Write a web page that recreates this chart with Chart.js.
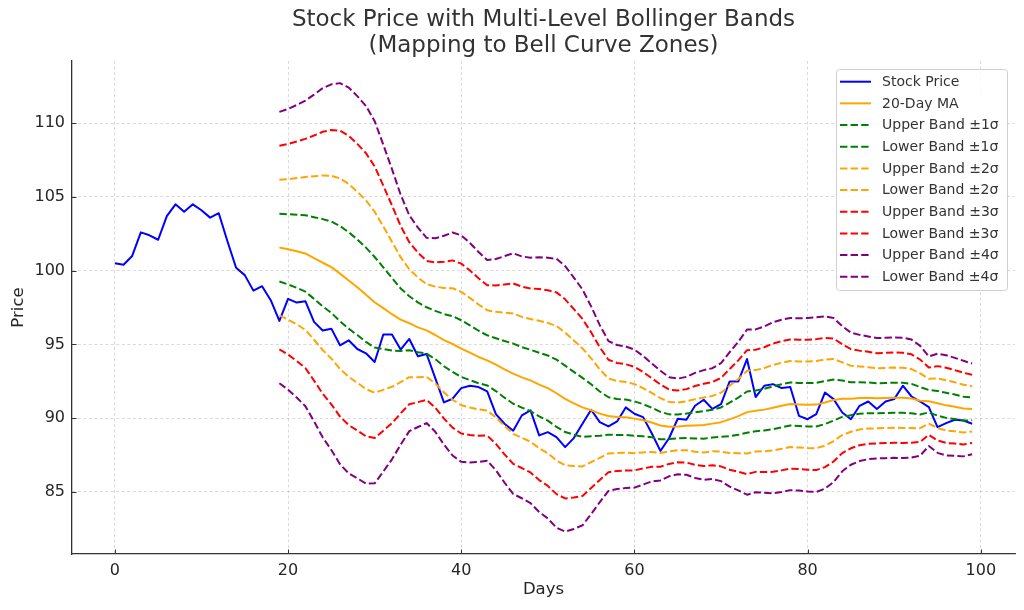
<!DOCTYPE html>
<html><head><meta charset="utf-8">
<script src="https://cdn.jsdelivr.net/npm/chart.js@4.4.0/dist/chart.umd.min.js"></script>
<style>html,body{margin:0;padding:0;background:#fff;} #wrap{width:1024px;height:610px;}</style>
</head><body><div id="wrap"><canvas id="c" width="1024" height="610"></canvas></div>
<script>
const days = [0,1,2,3,4,5,6,7,8,9,10,11,12,13,14,15,16,17,18,19,20,21,22,23,24,25,26,27,28,29,30,31,32,33,34,35,36,37,38,39,40,41,42,43,44,45,46,47,48,49,50,51,52,53,54,55,56,57,58,59,60,61,62,63,64,65,66,67,68,69,70,71,72,73,74,75,76,77,78,79,80,81,82,83,84,85,86,87,88,89,90,91,92,93,94,95,96,97,98,99];
const price = [100.5,100.4,101.0,102.6,102.4,102.1,103.7,104.5,104.0,104.5,104.1,103.6,103.9,102.0,100.2,99.7,98.65,98.95,98.0,96.6,
  98.09,97.84,97.93,96.53,95.94,96.07,94.94,95.28,94.69,94.40,93.81,95.67,95.67,94.65,95.37,94.2,94.35,92.72,91.07,91.32,
  92.04,92.2,92.11,91.82,90.28,89.62,89.15,90.19,90.53,88.83,89.05,88.72,88.04,88.65,89.62,90.57,89.73,89.44,89.78,90.73,
  90.3,90.07,88.98,87.78,88.64,89.96,89.89,90.84,91.25,90.63,90.95,92.49,92.49,94.01,91.43,92.2,92.31,92.04,92.11,90.16,
  89.93,90.27,91.74,91.29,90.39,89.93,90.84,91.13,90.63,91.13,91.29,92.2,91.47,91.13,90.75,89.39,89.66,89.89,89.84,89.62];
const bandDays = [19,20,21,22,23,24,25,26,27,28,29,30,31,32,33,34,35,36,37,38,39,40,41,42,43,44,45,46,47,48,49,50,51,52,53,54,55,56,57,58,59,60,61,62,63,64,65,66,67,68,69,70,71,72,73,74,75,76,77,78,79,80,81,82,83,84,85,86,87,88,89,90,91,92,93,94,95,96,97,98,99];
const ma20 = [101.57,101.45,101.32,101.17,100.86,100.54,100.24,99.80,99.34,98.88,98.37,97.86,97.46,97.05,96.68,96.44,96.16,95.95,95.64,95.29,95.03,
  94.72,94.44,94.15,93.92,93.63,93.31,93.02,92.77,92.56,92.28,92.04,91.69,91.31,91.01,90.73,90.54,90.31,90.15,90.08,90.06,
  89.97,89.86,89.71,89.50,89.42,89.44,89.48,89.51,89.54,89.63,89.73,89.92,90.14,90.41,90.50,90.58,90.71,90.84,90.96,90.93,
  90.91,90.92,91.06,91.23,91.32,91.32,91.37,91.38,91.35,91.37,91.39,91.38,91.33,91.18,91.15,91.01,90.87,90.77,90.65,90.63];
const sigma = [2.30,2.38,2.48,2.59,2.77,2.96,3.10,3.23,3.27,3.24,3.20,3.07,2.77,2.46,2.12,1.83,1.69,1.57,1.64,1.77,1.89,
  1.92,1.86,1.78,1.70,1.79,1.92,2.04,2.05,2.08,2.16,2.21,2.28,2.25,2.13,2.00,1.76,1.50,1.27,1.22,1.20,
  1.17,1.09,1.00,0.93,0.84,0.81,0.83,0.89,0.93,0.94,1.00,1.14,1.26,1.40,1.38,1.41,1.45,1.46,1.46,1.46,
  1.47,1.48,1.46,1.39,1.23,1.12,1.07,1.04,1.02,1.02,1.02,1.02,1.00,0.93,0.76,0.84,0.85,0.83,0.81,0.77];
const bandLevels = [1,2,3,4];
const bandColors = ['#008000','#ffa500','#ff0000','#800080'];
const xTicks = [0,20,40,60,80,100];
const yTicks = [85,90,95,100,105,110];

const FONT = "'DejaVu Sans', sans-serif";
const DASH = [7.4,3.2];

const datasets = [
  {label:'Stock Price', data: days.map((d,i)=>({x:d,y:price[i]})), borderColor:'#0000ff', borderWidth:2, order:20},
  {label:'20-Day MA', data: bandDays.map((d,i)=>({x:d,y:ma20[i]})), borderColor:'#ffa500', borderWidth:2, order:19}
];
bandLevels.forEach((k,j)=>{
  datasets.push({label:'Upper Band \u00B1'+k+'\u03C3', data: bandDays.map((d,i)=>({x:d,y:ma20[i]+k*sigma[i]})), borderColor:bandColors[j], borderWidth:2, borderDash:DASH, order:10-2*j});
  datasets.push({label:'Lower Band \u00B1'+k+'\u03C3', data: bandDays.map((d,i)=>({x:d,y:ma20[i]-k*sigma[i]})), borderColor:bandColors[j], borderWidth:2, borderDash:DASH, order:9-2*j});
});
datasets.forEach(ds=>{ds.pointRadius=0; ds.fill=false; ds.tension=0; ds.borderJoinStyle='round'; ds.borderCapStyle='butt';});

const innerTicks = {
  id:'innerTicks',
  afterDraw(chart){
    const {ctx, chartArea:a, scales:{x,y}} = chart;
    ctx.save(); ctx.strokeStyle='#333'; ctx.lineWidth=1;
    xTicks.forEach(v=>{const p=Math.round(x.getPixelForValue(v))+0.5; ctx.beginPath(); ctx.moveTo(p,a.bottom); ctx.lineTo(p,a.bottom-4.5); ctx.stroke();});
    yTicks.forEach(v=>{const p=Math.round(y.getPixelForValue(v))+0.5; ctx.beginPath(); ctx.moveTo(a.left,p); ctx.lineTo(a.left+4.5,p); ctx.stroke();});
    ctx.restore();
  }
};
const boxLegend = {
  id:'boxLegend',
  afterDraw(chart){
    const {ctx, chartArea:a} = chart;
    const w=171, h=221, right=a.right-8, top=a.top+8, left=right-w;
    ctx.save();
    ctx.beginPath();
    if (ctx.roundRect) ctx.roundRect(left+0.5,top+0.5,w,h,3); else ctx.rect(left+0.5,top+0.5,w,h);
    ctx.fillStyle='rgba(255,255,255,0.85)'; ctx.fill();
    ctx.strokeStyle='#d0d0d0'; ctx.lineWidth=1; ctx.stroke();
    ctx.font='14px '+FONT; ctx.textBaseline='middle'; ctx.textAlign='left';
    chart.data.datasets.forEach((ds,i)=>{
      const cy = top + 12.7 + 21.67*i;
      ctx.strokeStyle=ds.borderColor; ctx.lineWidth=2; ctx.setLineDash(ds.borderDash||[]);
      ctx.beginPath(); ctx.moveTo(left+4,cy); ctx.lineTo(left+35,cy); ctx.stroke();
      ctx.setLineDash([]);
      ctx.fillStyle='#333'; ctx.fillText(ds.label, left+46, cy+0.5);
    });
    ctx.restore();
  }
};

new Chart(document.getElementById('c'), {
  type:'line',
  data:{datasets},
  options:{
    responsive:false, animation:false, devicePixelRatio:1,
    layout:{padding:{left:0,right:9,top:0,bottom:0}},
    plugins:{
      legend:{display:false}, tooltip:{enabled:false},
      title:{display:true, fullSize:false, text:['Stock Price with Multi-Level Bollinger Bands','(Mapping to Bell Curve Zones)'],
        color:'#333', font:{family:FONT, size:23, weight:'normal', lineHeight:26/23}, padding:{top:7,bottom:2}}
    },
    scales:{
      x:{type:'linear', min:-4.95, max:103.95,
        afterBuildTicks:s=>{s.ticks = xTicks.map(v=>({value:v}));},
        afterFit:s=>{s.height=56;},
        ticks:{color:'#262626', font:{family:FONT,size:16}, padding:7, maxRotation:0, autoSkip:false},
        grid:{color:'rgba(176,176,176,0.6)', lineWidth:0.8, drawTicks:false},
        border:{display:true, color:'#333', width:1.3, dash:[3,2.5]},
        title:{display:true, text:'Days', color:'#262626', font:{family:FONT,size:16.5}, padding:{top:0,bottom:10}}
      },
      y:{type:'linear', min:80.79, max:114.22,
        afterBuildTicks:s=>{s.ticks = yTicks.map(v=>({value:v}));},
        afterFit:s=>{s.width=72;},
        ticks:{color:'#262626', font:{family:FONT,size:16}, padding:7, autoSkip:false},
        grid:{color:'rgba(176,176,176,0.6)', lineWidth:0.8, drawTicks:false},
        border:{display:true, color:'#333', width:1.3, dash:[3,2.5]},
        title:{display:true, text:'Price', color:'#262626', font:{family:FONT,size:16.5}, padding:{top:9,bottom:0}}
      }
    }
  },
  plugins:[innerTicks, boxLegend]
});
</script>
</body></html>
